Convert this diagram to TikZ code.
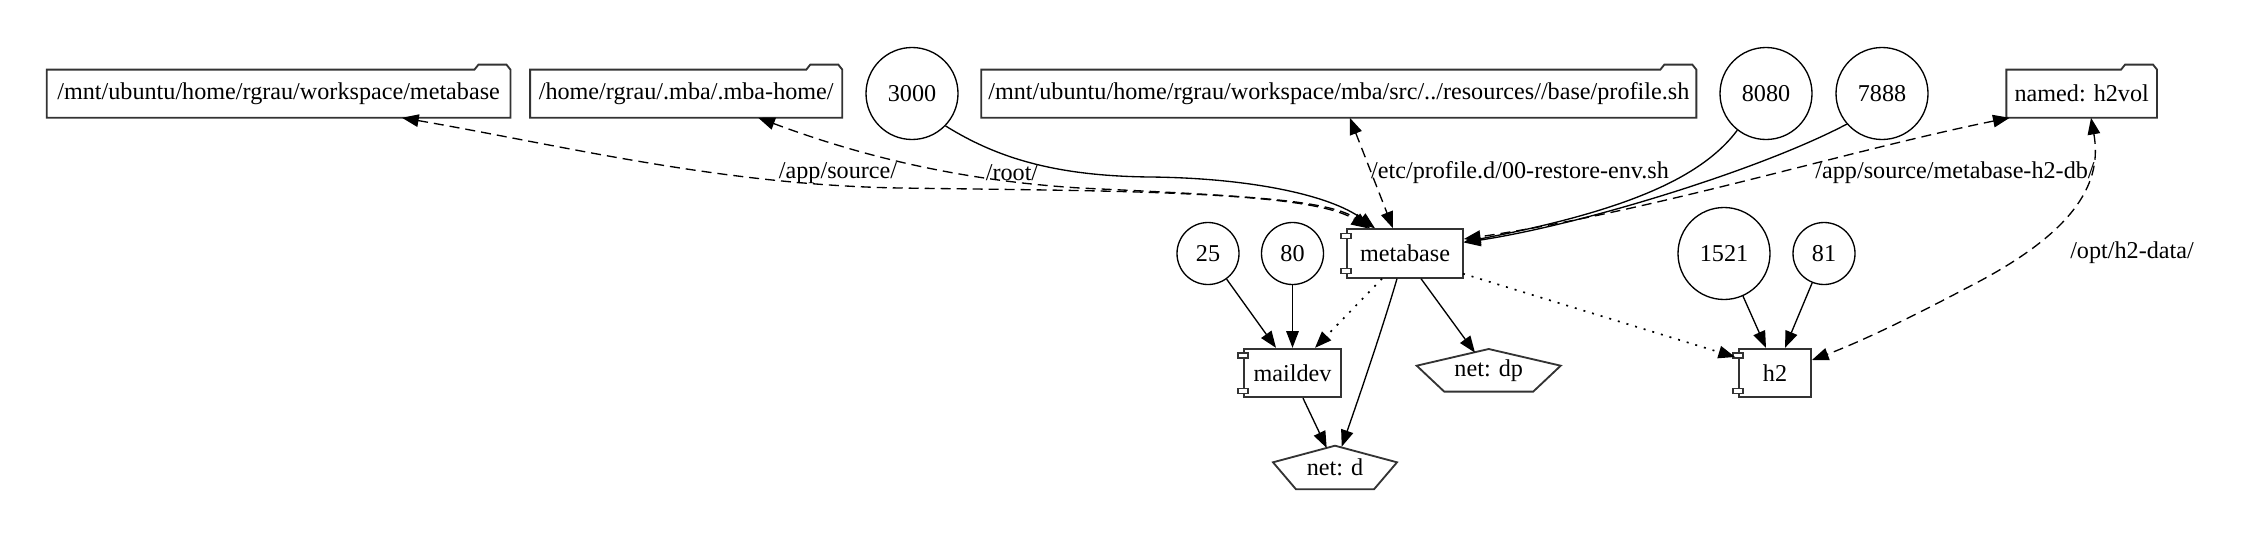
\documentclass[tikz,border=0pt]{standalone}
\usepackage{fontspec}
\setmainfont{Liberation Serif}
\usetikzlibrary{arrows.meta,calc}
\newcommand{\pxu}{0.6pt}
\definecolor{boxgray}{HTML}{333333}
\tikzset{
  boxline/.style={draw=boxgray, line width=1.1pt},
  folder/.style={draw=none, minimum height=47.5*\pxu, inner sep=0},
  comp/.style={rectangle, boxline, fill=white, minimum height=48.5*\pxu, inner sep=0},
  portbox/.style={draw=boxgray, line width=0.8pt, fill=white},
  circ/.style={circle, draw=black, line width=0.8pt, inner sep=0},
  bigc/.style={circ, minimum size=92*\pxu},
  smallc/.style={circ, minimum size=62*\pxu},
  netnode/.style={draw=none, inner sep=0, minimum height=44*\pxu},
  tip/.style={-{Triangle[length=10pt,width=7.5pt]}},
  bothtip/.style={{Triangle[length=10pt,width=7.5pt]}-{Triangle[length=10pt,width=7.5pt]}},
  solidedge/.style={tip, line width=0.8pt},
  voledge/.style={bothtip, line width=0.8pt, dash pattern=on 6pt off 3.6pt},
  linkedge/.style={tip, line width=1pt, dash pattern=on 1.2pt off 4.2pt},
  elabel/.style={inner sep=0}
}
\begin{document}
\begin{tikzpicture}[x=0.6pt, y=-0.6pt, font=\fontsize{14.5}{17}\selectfont]
\fill[white] (0,0) rectangle (2242,542);
\useasboundingbox (0,0) rectangle (2242,542);

% folders (volumes)
\node[folder, minimum width=463*\pxu] (f1) at (278.6,93.7) {/mnt/ubuntu/home/rgrau/workspace/metabase};
\node[folder, minimum width=311.5*\pxu] (f2) at (686.2,93.7) {/home/rgrau/.mba/.mba-home/};
\node[folder, minimum width=714.4*\pxu] (f3) at (1338.8,93.7) {/mnt/ubuntu/home/rgrau/workspace/mba/src/../resources//base/profile.sh};
\node[folder, minimum width=150*\pxu] (f4) at (2081.7,93.7) {named: h2vol};
\foreach \n in {f1,f2,f3,f4}
  \draw[boxline] (\n.south west) -- (\n.north west) -- ([shift={(-36,0)}]\n.north east) -- ++(4,-5) -- ++(28,0) -- (\n.north east) -- (\n.south east) -- cycle;

% ports
\node[bigc] (c3000) at (912,93.5) {3000};
\node[bigc] (c8080) at (1766,93.5) {8080};
\node[bigc] (c7888) at (1882,93.5) {7888};
\node[smallc] (c25) at (1208,253.5) {25};
\node[smallc] (c80) at (1292.5,253.5) {80};
\node[bigc] (c1521) at (1724,253.5) {1521};
\node[smallc] (c81) at (1824,253.5) {81};

% services
\node[comp, minimum width=116*\pxu] (metabase) at (1405,253.5) {metabase};
\node[comp, minimum width=97*\pxu] (maildev) at (1292.5,373) {maildev};
\node[comp, minimum width=72*\pxu] (h2) at (1775,373) {h2};
\foreach \n in {metabase,maildev,h2}{
  \draw[portbox] ([shift={(-5,5)}]\n.north west) rectangle ++(10,5);
  \draw[portbox] ([shift={(-5,-10)}]\n.south west) rectangle ++(10,5);
}

% networks
\node[netnode, minimum width=125*\pxu] (netd) at (1335,467.5) {net: d};
\draw[boxline] ([shift={(0,-21.8)}]netd.center) -- ([shift={(62,-5.2)}]netd.center) -- ([shift={(39,21.8)}]netd.center) -- ([shift={(-39,21.8)}]netd.center) -- ([shift={(-62,-5.2)}]netd.center) -- cycle;
\node[netnode, minimum width=144*\pxu] (netdp) at (1488.7,370.3) {net: dp};
\draw[boxline] ([shift={(0,-21.3)}]netdp.center) -- ([shift={(72,-4.6)}]netdp.center) -- ([shift={(44.5,21.3)}]netdp.center) -- ([shift={(-44.5,21.3)}]netdp.center) -- ([shift={(-72,-4.6)}]netdp.center) -- cycle;

% port edges
\draw[solidedge] (c3000.-44) .. controls (1000,160) and (1060,176) .. (1150,177) .. controls (1250,178) and (1330,195) .. ([shift={(-30,0)}]metabase.north);
\draw[solidedge] (c8080.-128) .. controls (1700,180) and (1620,212) .. ([shift={(0,-11.5)}]metabase.east);
\draw[solidedge] (c7888.-139) .. controls (1760,170) and (1580,225) .. ([shift={(0,-11)}]metabase.east);
\draw[solidedge] (c25.-54) -- ([shift={(-16.5,0)}]maildev.north);
\draw[solidedge] (c80.south) -- (maildev.north);
\draw[solidedge] (c1521.-66) -- ([shift={(-9,0)}]h2.north);
\draw[solidedge] (c81.-112) -- ([shift={(10,0)}]h2.north);

% volume edges
\draw[voledge] ([shift={(123.4,0)}]f1.south) .. controls (560,145) and (720,185) .. (900,188) .. controls (1100,191) and (1310,190) .. ([shift={(-37,0)}]metabase.north);
\draw[voledge] ([shift={(72,0)}]f2.south) .. controls (850,152) and (950,180) .. (1080,188) .. controls (1250,196) and (1330,200) .. ([shift={(-35,0)}]metabase.north);
\draw[voledge] ([shift={(11,0)}]f3.south) -- ([shift={(-12,0)}]metabase.north);
\draw[voledge] ([shift={(3.3,0)}]f4.south west) .. controls (1850,150) and (1650,212) .. ([shift={(0,-14.5)}]metabase.east);
\draw[voledge] ([shift={(9.3,0)}]f4.south) .. controls (2102,180) and (2080,230) .. (1968.5,287) .. controls (1910,318) and (1860,342) .. ([shift={(0,-13)}]h2.east);

% edge labels
\node[elabel] (lsrc) at (838,173) {/app/source/};
\node[elabel] (lroot) at (1012,173) {/root/};
\node[elabel] (lprof) at (1520,173) {/etc/profile.d/00-restore-env.sh};
\node[elabel] (ldb) at (1955,173) {/app/source/metabase-h2-db/};
\node[elabel] (lopt) at (2132,253) {/opt/h2-data/};

% network and link edges
\draw[linkedge] ([shift={(-23,0)}]metabase.south) -- ([shift={(22.5,0)}]maildev.north);
\draw[solidedge] ([shift={(-8,0)}]metabase.south) .. controls (1382,330) and (1358,400) .. ([shift={(6.7,-20.8)}]netd.center);
\draw[solidedge] ([shift={(10.5,0)}]maildev.south) -- ([shift={(-8.3,-19.5)}]netd.center);
\draw[solidedge] ([shift={(16,0)}]metabase.south) -- ([shift={(-13.7,-17.6)}]netdp.center);
\draw[linkedge] ([shift={(-1,-5)}]metabase.south east) -- ([shift={(-3,-16)}]h2.west);
\end{tikzpicture}
\end{document}
